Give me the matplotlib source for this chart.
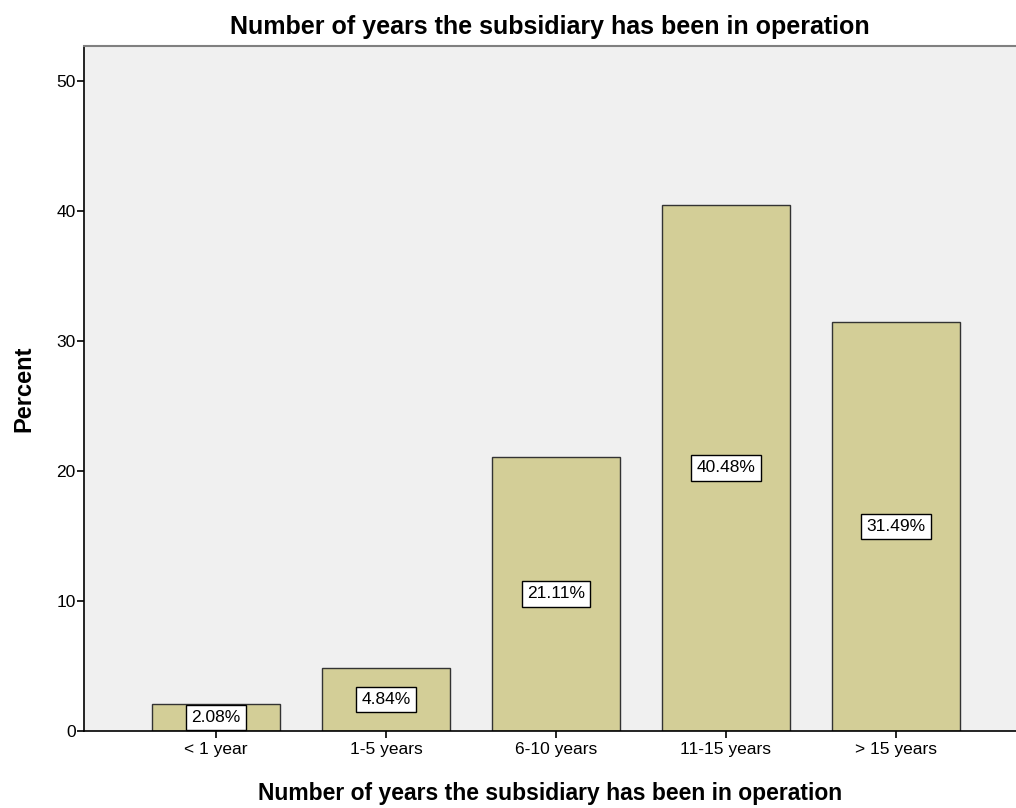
import matplotlib.pyplot as plt
import numpy as np

plt.rcParams['font.family'] = ['Liberation Sans', 'DejaVu Sans']

categories = ['< 1 year', '1-5 years', '6-10 years', '11-15 years', '> 15 years']
percent = [2.08, 4.84, 21.11, 40.48, 31.49]
yticks = [0, 10, 20, 30, 40, 50]
title = 'Number of years the subsidiary has been in operation'

fig = plt.figure(figsize=(10.16, 8.08), dpi=100)
ax = fig.add_axes([0.0827, 0.0953, 0.9173, 0.8477])
ax.set_facecolor('#f0f0f0')

x = np.arange(len(categories))
ax.bar(x, percent, width=0.753, color='#d3ce97', edgecolor='#333333', linewidth=1.0, zorder=2)

# value labels in boxes at mid-height of each bar
for xi, v in zip(x, percent):
    ax.text(xi, v / 2, f'{v:.2f}%', ha='center', va='center', fontsize=12.5, zorder=3,
            bbox=dict(boxstyle='square,pad=0.3', facecolor='white', edgecolor='black', linewidth=1.0))

ax.set_xlim(-0.776, 4.706)
ax.set_ylim(0, 52.7)
ax.set_xticks(x)
ax.set_xticklabels(categories, fontsize=12.5)
ax.set_yticks(yticks)
ax.tick_params(axis='y', labelsize=12.5, length=5, width=1.2, direction='out', pad=1)
ax.tick_params(axis='x', length=5, width=1.2, direction='out', pad=3)

ax.spines['right'].set_visible(False)
ax.spines['top'].set_color('#808080')
ax.spines['top'].set_linewidth(1.5)
ax.spines['left'].set_linewidth(1.2)
ax.spines['bottom'].set_linewidth(1.2)

ax.set_title(title, fontsize=18, fontweight='bold', pad=9)
ax.set_xlabel(title, fontsize=16.5, fontweight='bold', labelpad=18)
ax.set_ylabel('Percent', fontsize=17, fontweight='bold', labelpad=15)

fig.savefig('out.png', dpi=100)
